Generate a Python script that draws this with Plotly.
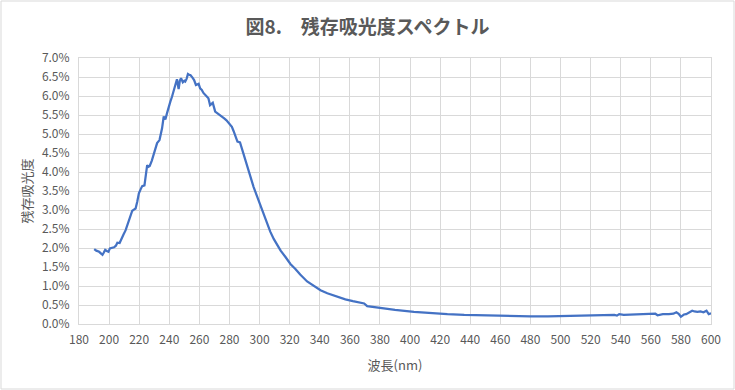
import plotly.graph_objects as go

wavelength_nm = [
    190.1, 191.5, 193.4, 194.5, 195.6, 196.5, 197.4, 198.5, 199.6, 200.5,
    202.0, 203.3, 204.5, 205.5, 207.0, 208.4, 209.5, 211.0, 212.0, 213.2,
    214.3, 215.4, 216.5, 217.6, 218.7, 219.8, 221.0, 222.0, 223.5, 224.3,
    225.3, 226.2, 227.0, 228.4, 229.7, 230.8, 231.9, 233.5, 234.4, 235.2,
    236.3, 237.4, 238.5, 239.6, 240.7, 241.8, 243.0, 244.0, 245.1, 246.2,
    247.0, 247.8, 249.0, 250.0, 250.6, 251.5, 252.4, 253.2, 254.0, 255.3,
    256.5, 257.7, 259.5, 260.5, 261.6, 262.7, 263.8, 265.0, 266.0, 267.1,
    267.8, 268.9, 270.5, 272.0, 273.8, 275.0, 276.5, 278.0, 279.3, 280.5,
    281.6, 282.7, 283.8, 285.3, 287.0, 288.2, 289.3, 291.0, 292.7, 294.3,
    296.0, 297.6, 299.3, 301.0, 302.7, 305.0, 307.1, 309.4, 311.6, 314.0,
    317.1, 320.5, 323.8, 327.0, 331.6, 336.0, 340.5, 345.0, 351.6, 357.0,
    362.0, 367.0, 369.5, 371.5, 375.0, 380.4, 390.0, 402.6, 412.0, 424.8,
    436.0, 447.0, 458.0, 469.0, 480.0, 491.6, 503.0, 513.6, 522.0, 530.0,
    535.8, 537.5, 539.0, 542.0, 548.0, 553.0, 558.0, 563.0, 564.5, 568.0,
    572.0, 575.0, 577.0, 578.5, 580.0, 582.0, 583.5, 587.5, 589.0, 591.0,
    593.0, 595.0, 597.0, 598.5, 600.0,
]

absorbance_pct = [
    1.97, 1.93, 1.90, 1.86, 1.82, 1.88, 1.95, 1.92, 1.90, 1.99,
    2.01, 2.02, 2.06, 2.14, 2.13, 2.28, 2.35, 2.47, 2.58, 2.74,
    2.88, 2.98, 3.01, 3.04, 3.22, 3.44, 3.55, 3.63, 3.65, 3.90,
    4.18, 4.14, 4.16, 4.30, 4.45, 4.62, 4.76, 4.84, 5.00, 5.15,
    5.46, 5.38, 5.55, 5.72, 5.85, 5.98, 6.15, 6.33, 6.44, 6.18,
    6.40, 6.47, 6.36, 6.40, 6.38, 6.45, 6.58, 6.56, 6.55, 6.49,
    6.42, 6.29, 6.32, 6.20, 6.16, 6.08, 6.03, 5.98, 5.94, 5.76,
    5.78, 5.82, 5.59, 5.55, 5.50, 5.46, 5.41, 5.36, 5.30, 5.24,
    5.19, 5.08, 4.97, 4.80, 4.78, 4.62, 4.45, 4.25, 4.05, 3.83,
    3.61, 3.44, 3.26, 3.06, 2.87, 2.64, 2.43, 2.24, 2.08, 1.93,
    1.77, 1.58, 1.45, 1.30, 1.12, 1.00, 0.89, 0.81, 0.72, 0.65,
    0.60, 0.56, 0.54, 0.47, 0.45, 0.42, 0.37, 0.32, 0.29, 0.26,
    0.24, 0.23, 0.21, 0.20, 0.20, 0.20, 0.21, 0.22, 0.22, 0.23,
    0.24, 0.22, 0.26, 0.24, 0.25, 0.24, 0.25, 0.27, 0.23, 0.26,
    0.26, 0.27, 0.31, 0.27, 0.19, 0.25, 0.26, 0.35, 0.33, 0.32,
    0.33, 0.31, 0.35, 0.26, 0.28,
]

title_text = "図8.　残存吸光度スペクトル"
x_title = "波長(nm)"
y_title = "残存吸光度"

FONT = "Noto Sans CJK JP, Noto Sans, sans-serif"
GRAY = "#595959"
GRID = "#d9d9d9"

fig = go.Figure()
fig.add_trace(go.Scatter(
    x=wavelength_nm, y=absorbance_pct, mode="lines",
    line=dict(color="#4472c4", width=2.25), showlegend=False,
))

fig.update_layout(
    width=735, height=390,
    margin=dict(l=79, r=24, t=58, b=66),
    paper_bgcolor="white", plot_bgcolor="white",
    title=dict(text=f"<b>{title_text}</b>", x=0.5, xanchor="center", y=0.93, yanchor="middle",
               font=dict(family=FONT, size=19, color=GRAY)),
    font=dict(family=FONT, color=GRAY, size=12),
    xaxis=dict(
        range=[180, 600], dtick=20, tick0=180,
        showgrid=True, gridcolor=GRID, gridwidth=1,
        showline=True, linecolor=GRID, mirror=True, zeroline=False,
        ticks="", ticklabelstandoff=5, tickfont=dict(family=FONT, size=12, color=GRAY),
        title=dict(text=x_title, font=dict(family=FONT, size=13, color=GRAY), standoff=14),
    ),
    yaxis=dict(
        range=[0, 7], dtick=0.5, tick0=0, tickformat=".1f", ticksuffix="%",
        showgrid=True, gridcolor=GRID, gridwidth=1,
        showline=True, linecolor=GRID, mirror=True, zeroline=False,
        ticks="", ticklabelstandoff=6, tickfont=dict(family=FONT, size=12, color=GRAY),
        title=dict(text=y_title, font=dict(family=FONT, size=13, color=GRAY), standoff=6),
    ),
    shapes=[dict(type="rect", xref="paper", yref="paper",
                 x0=(1 - 79) / 632, x1=(734 - 79) / 632,
                 y0=(324 - 389) / 266, y1=(324 - 1) / 266,
                 line=dict(color="#d9d9d9", width=1), fillcolor="rgba(0,0,0,0)", layer="below")],
)

fig.write_html("out.html", config={"displayModeBar": False},
               post_script="document.body.style.margin='0';")
